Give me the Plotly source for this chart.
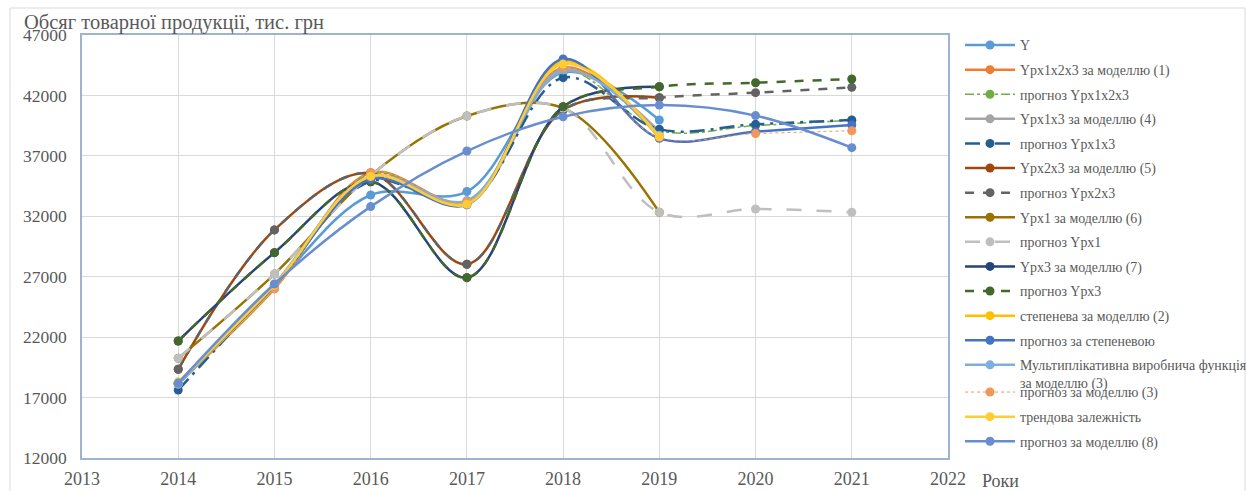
import plotly.graph_objects as go

# ---------------- data ----------------
years = [2014, 2015, 2016, 2017, 2018, 2019, 2020, 2021]
years_model = [2014, 2015, 2016, 2017, 2018, 2019]

y_actual = [18100, 26300, 33760, 34050, 43900, 39970]
ypx1x2x3_model = [18200, 26000, 35600, 33200, 44300, 38530]
ypx1x2x3_fc = [18200, 26050, 35500, 33150, 44000, 39100, 39500, 39950]
ypx1x3_model = [18100, 26300, 35300, 33000, 44000, 39000]
ypx1x3_fc = [17620, 26300, 34900, 33100, 43470, 39200, 39610, 39970]
ypx2x3_model = [19340, 30870, 35560, 28030, 40800, 41810]
ypx2x3_fc = [19340, 30870, 35560, 28030, 40800, 41810, 42230, 42670]
ypx1_model = [20250, 27220, 35400, 40300, 40950, 32330]
ypx1_fc = [20250, 27220, 35400, 40300, 40950, 32330, 32600, 32330]
ypx3_model = [21680, 28990, 34860, 26920, 41070, 42720]
ypx3_fc = [21680, 28990, 34860, 26920, 41070, 42720, 43050, 43360]
power_model = [18200, 26100, 35300, 33100, 44800, 38500]
power_fc = [18200, 26200, 35050, 32950, 45010, 38450, 39000, 39550]
mult_model = [18100, 26400, 35300, 33300, 44100, 38700]
mult_fc = [18200, 26000, 35600, 33200, 44300, 38530, 38840, 39080]
trend_model = [18300, 26300, 35300, 33000, 44600, 38600]
model8_fc = [18200, 26400, 32800, 37400, 40240, 41200, 40330, 37680]

y_ticks = [12000, 17000, 22000, 27000, 32000, 37000, 42000, 47000]
x_ticks = [2013, 2014, 2015, 2016, 2017, 2018, 2019, 2020, 2021, 2022]

# ---------------- series definitions ----------------
series = [
    ("Y", years_model, y_actual, "#5B9BD5", "solid", 2.5),
    ("Yрх1х2х3 за моделлю (1)", years_model, ypx1x2x3_model, "#ED7D31", "solid", 2.5),
    ("прогноз Yрх1х2х3", years, ypx1x2x3_fc, "#70AD47", "dashdot", 1.5),
    ("Yрх1х3 за моделлю (4)", years_model, ypx1x3_model, "#A5A5A5", "solid", 2.5),
    ("прогноз Yрх1х3", years, ypx1x3_fc, "#255E91", "longdashdot", 2.5),
    ("Yрх2х3 за моделлю (5)", years_model, ypx2x3_model, "#9E480E", "solid", 2.5),
    ("прогноз Yрх2х3", years, ypx2x3_fc, "#636363", "dash", 2.5),
    ("Yрх1 за моделлю (6)", years_model, ypx1_model, "#997300", "solid", 2.5),
    ("прогноз Yрх1", years, ypx1_fc, "#BFBFBF", "longdash", 2.5),
    ("Yрх3 за моделлю (7)", years_model, ypx3_model, "#264478", "solid", 2.5),
    ("прогноз Yрх3", years, ypx3_fc, "#43682B", "9px,9px", 2.5),
    ("степенева за моделлю (2)", years_model, power_model, "#FFC000", "solid", 2.5),
    ("прогноз за степеневою", years, power_fc, "#4472C4", "solid", 2.5),
    ("Мультиплікативна виробнича функція<br>за моделлю (3)", years_model, mult_model, "#7CAFDD", "solid", 2.5),
    ("прогноз за моделлю (3)", years, mult_fc, "#F1975A", "dot", 1.0),
    ("трендова залежність", years_model, trend_model, "#FFCD33", "solid", 2.5),
    ("прогноз за моделлю (8)", years, model8_fc, "#698ED0", "solid", 2.5),
]

SERIF = "Liberation Serif, Times New Roman, serif"
TXT = "#595959"

def legend_of(i):
    if i < 7:
        return "legend"
    if i < 14:
        return "legend2"
    return "legend3"

fig = go.Figure()
for i, (name, xs, ys, color, dash, width) in enumerate(series):
    fig.add_trace(go.Scatter(
        x=xs, y=ys, name=name, mode="lines+markers",
        line=dict(color=color, width=width, dash=dash, shape="spline", smoothing=1.0),
        marker=dict(color=color, size=9, line=dict(width=0)),
        legendgroup=f"g{i}",
        legend=legend_of(i),
    ))

FS = 13.9
ITEM_H = FS * 1.3 + 3
GAP = 24.6 - ITEM_H
OFF = 15.5

legend_common = dict(
    font=dict(family=SERIF, size=FS, color=TXT),
    bgcolor="rgba(0,0,0,0)",
    borderwidth=0,
    traceorder="grouped",
    tracegroupgap=GAP,
    itemwidth=50,
    valign="top",
    xanchor="left",
    yanchor="top",
)

def ly(center_px):
    return 1 - (center_px - OFF - 35) / 423

LX = (960 - 82) / 866

fig.update_layout(
    width=1247, height=491,
    margin=dict(l=82, r=299, t=35, b=33, autoexpand=False),
    paper_bgcolor="white",
    plot_bgcolor="white",
    font=dict(family=SERIF, color=TXT),
    showlegend=True,
    legend=dict(x=LX, y=ly(45), **legend_common),
    legend2=dict(x=LX, y=ly(45 + 24.6 * 7), **legend_common),
    legend3=dict(x=LX, y=ly(392), **legend_common),
    xaxis=dict(
        range=[2013, 2022], tickmode="array", tickvals=x_ticks,
        ticktext=[str(v) for v in x_ticks],
        showgrid=True, gridcolor="#D9D9D9", gridwidth=1.3,
        showline=True, linecolor="#9DB3CF", linewidth=1.5, mirror=True,
        ticks="", zeroline=False, ticklabelstandoff=4,
        tickfont=dict(family=SERIF, size=18, color=TXT),
    ),
    yaxis=dict(
        range=[12000, 47000], tickmode="array", tickvals=y_ticks,
        ticktext=[str(v) for v in y_ticks],
        showgrid=True, gridcolor="#D9D9D9", gridwidth=1.3,
        showline=True, linecolor="#9DB3CF", linewidth=1.5, mirror=True,
        ticks="", zeroline=False, ticklabelstandoff=10,
        tickfont=dict(family=SERIF, size=17.5, color=TXT),
    ),
    annotations=[
        dict(text="Обсяг товарної продукції, тис. грн", xref="paper", yref="paper",
             x=(22 - 82) / 866, y=1 + (35 - 23) / 423, xanchor="left", yanchor="middle",
             showarrow=False, font=dict(family=SERIF, size=20.5, color=TXT)),
        dict(text="Роки", xref="paper", yref="paper",
             x=(980 - 82) / 866, y=-(481 - 458) / 423, xanchor="left", yanchor="middle",
             showarrow=False, font=dict(family=SERIF, size=18, color=TXT)),
    ],
    shapes=[
        dict(type="rect", xref="paper", yref="paper",
             x0=(10 - 82) / 866, x1=(1245 - 82) / 866,
             y0=-(495 - 458) / 423, y1=1 + (35 - 8) / 423,
             line=dict(color="#D9D9D9", width=1), fillcolor="rgba(0,0,0,0)", layer="below"),
    ],
)

fig.write_html(
    "out.html",
    config={"displayModeBar": False},
    post_script="document.body.style.margin='0';document.body.style.overflow='hidden';",
)
